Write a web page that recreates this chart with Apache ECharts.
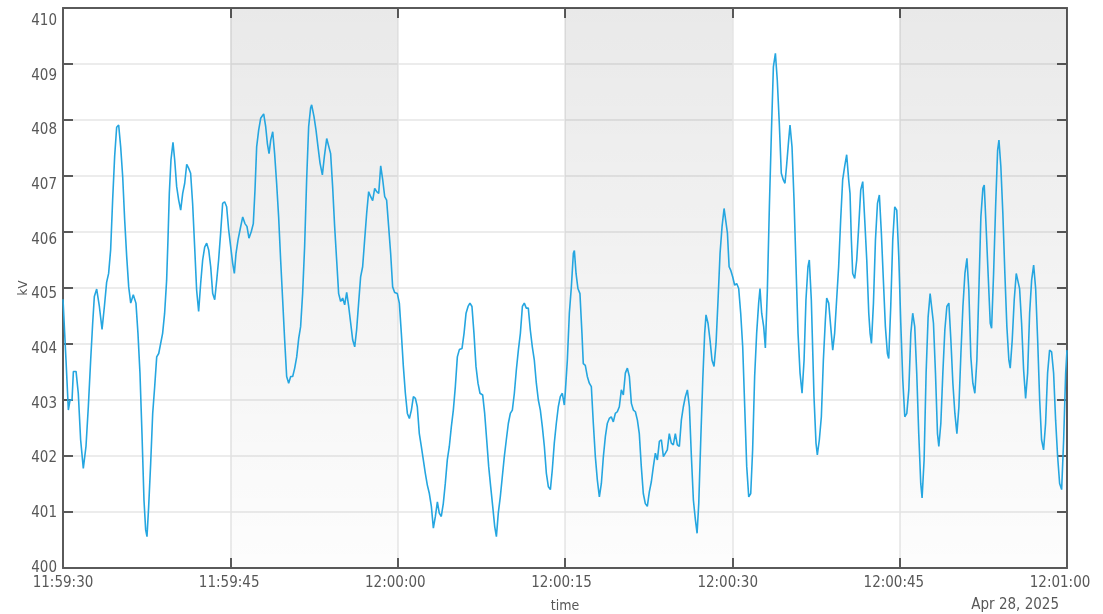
<!DOCTYPE html>
<html>
<head>
<meta charset="utf-8">
<script src="https://cdn.jsdelivr.net/npm/echarts@6/dist/echarts.min.js"></script>
<style>
html,body{margin:0;padding:0;background:#fff;}
#chart{width:1103px;height:614px;}
</style>
</head>
<body>
<div id="chart"></div>
<script>
// seconds after 11:59:30 (Apr 28, 2025)
const secs = [
0.00,0.27,0.48,0.63,0.81,0.93,1.17,1.37,1.58,1.82,2.06,2.27,2.48,2.66,2.81,3.02,3.26,3.50,3.71,3.91,
4.09,4.27,4.45,4.63,4.81,4.99,5.17,5.35,5.53,5.71,5.89,6.07,6.30,6.54,6.72,6.90,7.08,7.26,7.41,7.53,
7.68,7.86,8.04,8.22,8.40,8.58,8.75,8.93,9.11,9.29,9.41,9.53,9.68,9.86,10.01,10.19,10.37,10.55,10.73,10.91,
11.09,11.26,11.44,11.62,11.80,11.98,12.16,12.34,12.52,12.70,12.88,13.06,13.24,13.42,13.60,13.78,13.95,14.13,14.31,14.49,
14.67,14.85,15.03,15.21,15.36,15.51,15.69,15.87,16.11,16.31,16.49,16.67,16.88,17.06,17.21,17.36,17.54,17.72,17.99,18.17,
18.32,18.47,18.62,18.80,18.97,19.15,19.33,19.51,19.69,19.87,20.05,20.23,20.41,20.59,20.77,20.95,21.13,21.30,21.48,21.66,
21.84,22.02,22.20,
22.29,22.50,22.68,22.86,23.04,23.25,23.43,23.64,23.81,23.99,24.17,24.35,24.53,24.71,24.89,25.07,25.25,25.43,25.61,25.79,
25.97,26.15,26.32,26.50,26.68,26.86,27.04,27.22,27.40,27.58,27.76,27.94,28.12,28.30,28.48,28.66,28.84,29.01,29.19,29.37,
29.55,29.73,29.97,30.15,30.33,30.51,30.69,30.87,31.05,31.23,31.41,31.59,31.76,31.94,32.12,32.30,32.48,32.66,32.84,33.02,
33.20,33.38,33.56,33.73,33.91,34.09,34.27,34.45,34.63,34.81,34.99,35.17,35.35,35.53,35.77,35.95,36.13,36.31,36.48,36.66,
36.84,37.02,37.20,37.38,37.62,37.80,37.98,38.16,38.34,38.52,38.70,38.85,39.02,39.20,39.38,39.56,39.74,39.92,40.10,40.28,
40.46,40.64,40.82,41.00,41.18,41.35,41.53,41.71,41.89,42.07,42.25,42.43,42.61,42.79,42.97,43.15,43.33,43.51,43.69,43.86,
44.04,44.22,44.40,44.58,44.76,44.94,
45.03,45.21,45.39,45.57,45.75,45.84,45.99,46.16,46.34,46.52,46.64,46.82,47.00,47.18,47.36,47.54,47.72,47.90,48.08,48.26,
48.44,48.62,48.79,48.97,49.15,49.33,49.51,49.69,49.87,50.05,50.23,50.41,50.59,50.77,50.95,51.13,51.31,51.49,51.66,51.84,
52.02,52.20,52.38,52.56,52.74,52.92,53.10,53.28,53.46,53.64,53.82,54.00,54.17,54.35,54.53,54.71,54.89,55.07,55.25,55.43,
55.61,55.79,55.97,56.15,56.33,56.51,56.69,56.84,56.99,57.17,57.35,57.52,57.64,57.82,58.00,58.18,58.36,58.54,58.72,58.90,
59.08,59.26,59.41,59.56,59.71,59.85,60.03,60.21,60.39,60.57,60.75,60.93,61.11,61.29,61.47,61.65,61.82,62.00,62.18,62.36,
62.48,62.63,62.81,62.96,63.14,63.32,63.50,63.68,63.86,64.03,64.21,64.39,64.57,64.72,64.87,65.05,65.17,65.35,65.53,65.71,
65.89,66.07,66.25,66.43,66.60,66.78,66.90,67.08,
67.32,67.50,67.62,67.80,67.98,68.16,68.34,68.46,68.64,68.82,69.00,69.17,69.35,69.53,69.71,69.89,70.07,70.25,70.43,70.55,
70.67,70.79,70.97,71.15,71.33,71.51,71.69,71.87,72.05,72.23,72.35,72.47,72.65,72.83,73.01,73.18,73.36,73.54,73.72,73.90,
74.02,74.20,74.38,74.56,74.74,74.92,75.10,75.28,75.46,75.64,75.82,76.00,76.17,76.35,76.53,76.71,76.89,77.01,77.19,77.37,
77.55,77.73,77.85,78.03,78.21,78.39,78.51,78.69,78.87,79.05,79.23,79.41,79.59,79.77,79.95,80.13,80.31,80.49,80.67,80.85,
81.03,81.20,81.38,81.56,81.74,81.92,82.10,82.28,82.46,82.58,82.76,82.94,83.12,83.24,83.42,83.60,83.78,83.90,84.07,84.25,
84.43,84.61,84.79,84.91,85.09,85.27,85.45,85.57,85.75,85.93,86.11,86.29,86.47,86.65,86.83,87.01,87.19,87.37,87.55,87.72,
87.90,88.08,88.26,88.44,88.62,88.80,88.98,89.16,89.34,89.52,89.70,89.88,90.00
];
// voltage, kV
const kv = [
404.80,403.71,402.82,403.00,403.00,403.51,403.51,403.12,402.29,401.78,402.17,402.88,403.71,404.37,404.85,404.98,404.67,404.26,404.67,405.10,
405.26,405.68,406.57,407.35,407.87,407.91,407.52,406.99,406.21,405.56,405.02,404.73,404.88,404.73,404.19,403.48,402.40,401.21,400.68,400.56,
401.10,401.87,402.76,403.24,403.77,403.83,403.83,404.19,404.55,405.14,405.86,406.69,407.29,407.60,407.29,406.81,406.57,406.39,406.69,406.87,
407.21,407.14,407.05,406.51,405.74,404.96,404.58,405.08,405.50,405.73,405.80,405.68,405.38,404.90,404.79,405.14,405.50,405.98,406.51,406.54,
406.45,406.04,405.74,405.44,405.26,405.62,405.86,406.04,406.27,406.15,406.10,405.89,406.01,406.15,406.75,407.52,407.82,408.03,408.11,407.88,
407.58,407.40,407.64,407.79,407.40,406.87,406.27,405.50,404.79,404.07,403.42,403.30,403.42,403.42,403.57,403.77,404.10,404.31,404.90,405.74,
406.93,407.88,408.22,
408.27,408.06,407.82,407.52,407.23,407.02,407.35,407.67,407.64,407.40,406.81,406.10,405.50,404.90,404.76,404.82,404.70,404.92,404.67,404.37,
404.07,403.95,404.25,404.73,405.20,405.38,405.86,406.33,406.72,406.63,406.56,406.78,406.72,406.69,407.18,406.93,406.63,406.57,406.10,405.62,
405.02,404.92,404.90,404.73,404.19,403.60,403.12,402.76,402.67,402.82,403.06,403.03,402.88,402.40,402.17,401.93,401.69,401.48,401.33,401.10,
400.71,400.92,401.18,400.98,400.92,401.15,401.51,401.93,402.17,402.52,402.82,403.24,403.77,403.90,403.92,404.19,404.55,404.67,404.73,404.67,
404.19,403.60,403.30,403.12,403.09,402.76,402.29,401.81,401.45,401.10,400.74,400.56,400.98,401.27,401.63,401.99,402.29,402.58,402.76,402.82,
403.12,403.54,403.89,404.19,404.67,404.73,404.64,404.64,404.25,403.95,403.71,403.30,403.00,402.82,402.52,402.17,401.69,401.45,401.40,401.75,
402.23,402.58,402.88,403.06,403.12,402.91,
403.15,403.71,404.55,405.02,405.62,405.67,405.26,404.99,404.90,404.19,403.65,403.62,403.42,403.30,403.24,402.58,401.99,401.57,401.27,401.51,
401.99,402.35,402.58,402.67,402.70,402.61,402.76,402.79,402.88,403.18,403.09,403.48,403.57,403.42,402.94,402.82,402.79,402.64,402.40,401.81,
401.33,401.15,401.10,401.36,401.54,401.81,402.05,401.93,402.26,402.29,401.99,402.05,402.11,402.40,402.23,402.20,402.40,402.20,402.17,402.64,
402.88,403.06,403.18,402.88,401.99,401.21,400.86,400.62,401.15,402.29,403.36,404.19,404.52,404.37,404.07,403.71,403.60,404.01,404.79,405.62,
406.10,406.42,406.45,405.98,405.38,405.32,405.20,405.05,405.08,404.99,404.55,403.95,402.88,401.81,401.27,401.33,402.11,403.42,404.19,404.73,
404.99,404.55,404.31,403.93,404.96,406.45,407.76,408.95,409.19,408.71,407.94,407.05,406.93,406.87,407.20,407.64,407.91,407.52,406.57,405.38,
404.19,403.48,403.12,403.71,404.79,405.38,405.50,404.79,
403.06,402.23,402.02,402.29,402.70,403.71,404.43,404.82,404.73,404.31,403.89,404.19,404.79,405.38,406.21,406.93,407.17,407.38,406.93,406.69,
405.86,405.26,405.17,405.50,406.10,406.75,406.90,406.21,405.50,404.55,404.19,404.01,404.73,405.86,406.51,406.66,405.98,405.14,404.31,403.83,
403.74,404.67,405.86,406.45,406.39,405.56,404.37,403.36,402.70,402.76,403.18,404.19,404.55,404.31,403.48,402.40,401.51,401.25,401.93,403.48,
404.48,404.90,404.93,404.37,403.48,402.40,402.17,402.58,403.48,404.25,404.67,404.73,404.07,403.30,402.76,402.40,402.88,403.83,404.67,405.26,
405.53,404.96,403.77,403.30,403.12,403.71,404.96,406.27,406.78,406.84,406.04,405.20,404.37,404.28,405.26,406.45,407.46,407.64,407.17,406.33,
405.26,404.31,403.71,403.57,404.07,404.79,405.26,405.29,404.99,404.37,403.54,403.03,403.48,404.55,405.14,405.41,404.99,404.07,403.00,402.29,
402.11,402.58,403.48,403.89,403.86,403.48,402.64,401.99,401.51,401.40,402.29,403.48,403.89
];
const tickLabels = ['11:59:30','11:59:45','12:00:00','12:00:15','12:00:30','12:00:45','12:01:00'];
const dateLabel = 'Apr 28, 2025';
const shadedBands = [[15, 30], [45, 60], [75, 90]];
const xStep = 15;
const yMin = 400, yMax = 410, yStep = 1;
// the reference draws its tick labels on a slightly compressed scale
const xLabelMax = 90.63, yLabelMax = 410.238;

const FONT = '"DejaVu Sans Condensed", "Liberation Sans Narrow", "Noto Sans", sans-serif';
const LABEL_COLOR = '#585858';
const AXIS_COLOR = '#5a5a5a';

const seriesData = secs.map((s, i) => [s, kv[i]]);

const chart = echarts.init(document.getElementById('chart'), null, {renderer: 'canvas'});

const boxAxisCommon = {
  axisLine: {show: true, onZero: false, lineStyle: {color: AXIS_COLOR, width: 2}},
  axisTick: {show: true, inside: true, length: 10, lineStyle: {color: AXIS_COLOR, width: 2}}
};
const isStep = (v, step) => Math.abs(v / step - Math.round(v / step)) < 1e-6;

chart.setOption({
  animation: false,
  backgroundColor: '#ffffff',
  grid: {left: 63, right: 36, top: 8, bottom: 46, containLabel: false, outerBoundsMode: 'none'},
  xAxis: [
    Object.assign({
      type: 'value', min: 0, max: 90, interval: xStep, position: 'bottom',
      name: 'time', nameLocation: 'middle', nameGap: 31,
      nameTextStyle: {color: LABEL_COLOR, fontSize: 14, fontFamily: FONT},
      axisLabel: {show: false},
      splitLine: {show: true, lineStyle: {color: '#e6e6e6', width: 1.5}}
    }, boxAxisCommon),
    Object.assign({
      type: 'value', min: 0, max: 90, interval: xStep, position: 'top',
      axisLabel: {show: false}, splitLine: {show: false}
    }, boxAxisCommon),
    {
      type: 'value', min: 0, max: xLabelMax, interval: xStep, position: 'bottom',
      axisLine: {show: false}, axisTick: {show: false}, splitLine: {show: false},
      axisLabel: {
        color: LABEL_COLOR, fontSize: 15, fontFamily: FONT, margin: 8,
        showMaxLabel: true,
        formatter: v => isStep(v, xStep) ? tickLabels[Math.round(v / xStep)] : ''
      }
    }
  ],
  yAxis: [
    Object.assign({
      type: 'value', min: yMin, max: yMax, interval: yStep, position: 'left',
      name: 'kV', nameLocation: 'middle', nameGap: 33, nameRotate: 90,
      nameTextStyle: {color: LABEL_COLOR, fontSize: 13, fontFamily: FONT},
      axisLabel: {show: false},
      splitLine: {show: true, lineStyle: {color: '#e6e6e6', width: 1.5}}
    }, boxAxisCommon),
    Object.assign({
      type: 'value', min: yMin, max: yMax, interval: yStep, position: 'right',
      axisLabel: {show: false}, splitLine: {show: false}
    }, boxAxisCommon),
    {
      type: 'value', min: yMin, max: yLabelMax, interval: yStep, position: 'left',
      axisLine: {show: false}, axisTick: {show: false}, splitLine: {show: false},
      axisLabel: {
        color: LABEL_COLOR, fontSize: 15, fontFamily: FONT, margin: 6,
        formatter: v => isStep(v, yStep) ? String(Math.round(v)) : ''
      }
    }
  ],
  graphic: [{
    type: 'text', right: 44, top: 598,
    style: {text: dateLabel, fill: LABEL_COLOR, font: '15px ' + FONT}
  }],
  series: [{
    type: 'line',
    data: seriesData,
    xAxisIndex: 0, yAxisIndex: 0,
    showSymbol: false, symbol: 'none',
    lineStyle: {color: '#25a6e0', width: 1.6},
    z: 3,
    markArea: {
      silent: true,
      itemStyle: {
        color: new echarts.graphic.LinearGradient(0, 0, 0, 1, [
          {offset: 0, color: 'rgba(0,0,0,0.085)'},
          {offset: 1, color: 'rgba(0,0,0,0.008)'}
        ])
      },
      data: shadedBands.map(b => [{xAxis: b[0], yAxis: yMin}, {xAxis: b[1], yAxis: yMax}])
    }
  }]
});
</script>
</body>
</html>
